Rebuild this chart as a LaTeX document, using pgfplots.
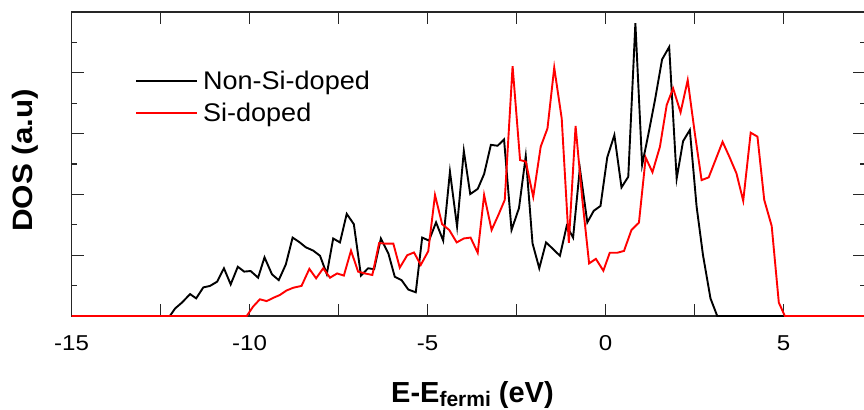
\documentclass[border=0pt]{standalone}
\usepackage{fontspec}
\setmainfont{Liberation Sans}
\newfontfamily\wfont{Liberation Sans}[FakeStretch=1.12]
\newfontfamily\lfont{Liberation Sans}[FakeStretch=1.06]
\usepackage{pgfplots}
\pgfplotsset{compat=1.18}
\begin{document}
\begin{tikzpicture}
\begin{axis}[name=ax,
  width=793.7bp, height=304bp, scale only axis,
  xmin=-15, xmax=7.3, ymin=0, ymax=10,
  axis line style={line width=1.2bp, black!85},
  every tick/.style={line width=1.2bp, black!85},
  major tick length=12bp, minor tick length=5bp,
  xtick={-15,-10,-5,0,5}, xticklabels={-15,-10,-5,0,5},
  extra x ticks={-12.5,-7.5,-2.5,2.5}, extra x tick labels={},
  extra x tick style={grid=none},
  ytick={0,2,4,6,8,10}, minor ytick={1,3,5,7,9}, yticklabels={},
  xticklabel style={font=\wfont\fontsize{21.5bp}{25bp}\selectfont, anchor=north, inner sep=0pt, yshift=-19.5bp},
  xlabel={E-E\raisebox{-4bp}{\fontsize{21bp}{22bp}\selectfont fermi} (eV)},
  xlabel style={at={([xshift=4bp,yshift=-86bp]axis description cs:0.5,0)}, anchor=base, font=\fontsize{29bp}{32bp}\selectfont\bfseries},
  ylabel={DOS (a.u)},
  ylabel style={at={([xshift=-38.6bp]axis description cs:0,0.5115)}, anchor=base, font=\wfont\fontsize{28bp}{32bp}\selectfont\bfseries},
  legend style={at={(rel axis cs:0.0799,0.807)}, anchor=north west, draw=none, fill=none, inner sep=0pt,
    font=\lfont\fontsize{25.5bp}{28bp}\selectfont, row sep=12.5bp, column sep=5bp, nodes={inner sep=0pt}, cells={anchor=west}},
  legend image code/.code={\draw[#1] (0bp,0bp) -- (61bp,0bp);},
]
\addplot[black, line width=1.9bp] coordinates {
(-15,0) (-12.24,0) (-12.09,0.25) (-11.91,0.43) (-11.67,0.72) (-11.5,0.58) (-11.30,0.94)
(-11.11,0.99) (-10.91,1.13) (-10.72,1.57) (-10.53,1.04) (-10.33,1.62) (-10.15,1.46)
(-9.97,1.48) (-9.76,1.26) (-9.58,1.93) (-9.37,1.37) (-9.18,1.18) (-8.98,1.70)
(-8.79,2.58) (-8.60,2.43) (-8.42,2.26) (-8.21,2.15) (-8.02,1.98) (-7.83,1.38)
(-7.65,2.55) (-7.46,2.42) (-7.27,3.36) (-7.07,3.02) (-6.87,1.33) (-6.67,1.57)
(-6.50,1.54) (-6.31,2.55) (-6.10,2.06) (-5.92,1.29) (-5.73,1.18) (-5.54,0.87)
(-5.33,0.78) (-5.15,2.58) (-4.96,2.48) (-4.76,3.08) (-4.56,2.48) (-4.37,4.75)
(-4.17,2.94) (-3.98,5.43) (-3.80,4.01) (-3.59,4.18) (-3.41,4.67) (-3.22,5.63)
(-3.03,5.60) (-2.85,5.81) (-2.64,2.83) (-2.43,3.55) (-2.24,5.26) (-2.05,2.39)
(-1.86,1.57) (-1.67,2.42) (-1.47,2.20) (-1.28,1.98) (-1.09,2.96) (-0.91,2.58)
(-0.72,4.86) (-0.51,3.08) (-0.33,3.46) (-0.14,3.62) (0.05,5.22) (0.25,5.95)
(0.45,4.23) (0.64,4.58) (0.84,9.63) (1.03,4.97) (1.20,5.95) (1.39,7.10)
(1.59,8.44) (1.79,8.85) (2.00,4.52) (2.18,5.75) (2.37,6.12) (2.56,3.60)
(2.74,2.00) (2.95,0.58) (3.14,0) (7.3,0)
};
\addlegendentry{Non-Si-doped}
\addplot[red, line width=1.9bp] coordinates {
(-15,0) (-10.08,0) (-9.90,0.31) (-9.71,0.55) (-9.52,0.49) (-9.33,0.60) (-9.15,0.69)
(-8.96,0.84) (-8.77,0.93) (-8.54,0.99) (-8.32,1.55) (-8.13,1.24) (-7.93,1.57)
(-7.74,1.26) (-7.54,1.40) (-7.35,1.33) (-7.15,2.15) (-6.95,1.46) (-6.76,1.40)
(-6.55,1.35) (-6.36,2.40) (-6.17,2.38) (-5.96,2.38) (-5.78,1.59) (-5.57,2.00)
(-5.38,2.09) (-5.19,1.68) (-4.98,2.13) (-4.79,3.98) (-4.59,3.02) (-4.39,2.83)
(-4.18,2.42) (-3.98,2.55) (-3.79,2.58) (-3.59,2.08) (-3.41,3.98) (-3.20,2.83)
(-3.01,3.32) (-2.83,3.82) (-2.61,8.22) (-2.40,5.13) (-2.24,5.08) (-2.03,3.92)
(-1.82,5.57) (-1.63,6.17) (-1.44,8.17) (-1.23,6.50) (-1.03,2.41) (-0.84,6.25)
(-0.65,3.82) (-0.46,1.73) (-0.27,1.88) (-0.06,1.49) (0.12,2.08) (0.33,2.08)
(0.52,2.14) (0.73,2.83) (0.94,3.07) (1.13,5.21) (1.32,4.73) (1.53,5.57)
(1.72,6.94) (1.90,7.49) (2.11,6.70) (2.31,7.76) (2.51,6.01) (2.70,4.47)
(2.90,4.56) (3.09,5.13) (3.29,5.73) (3.48,5.24) (3.68,4.69) (3.87,3.79)
(4.08,6.03) (4.27,5.90) (4.46,3.82) (4.67,2.96) (4.87,0.44) (5.04,0) (7.3,0)
};
\addlegendentry{Si-doped}
\end{axis}
\pgfresetboundingbox
\path[use as bounding box] ([xshift=-71.6bp,yshift=-94bp]ax.south west) rectangle ([xshift=-1.3bp,yshift=12bp]ax.north east);
\end{tikzpicture}
\end{document}
